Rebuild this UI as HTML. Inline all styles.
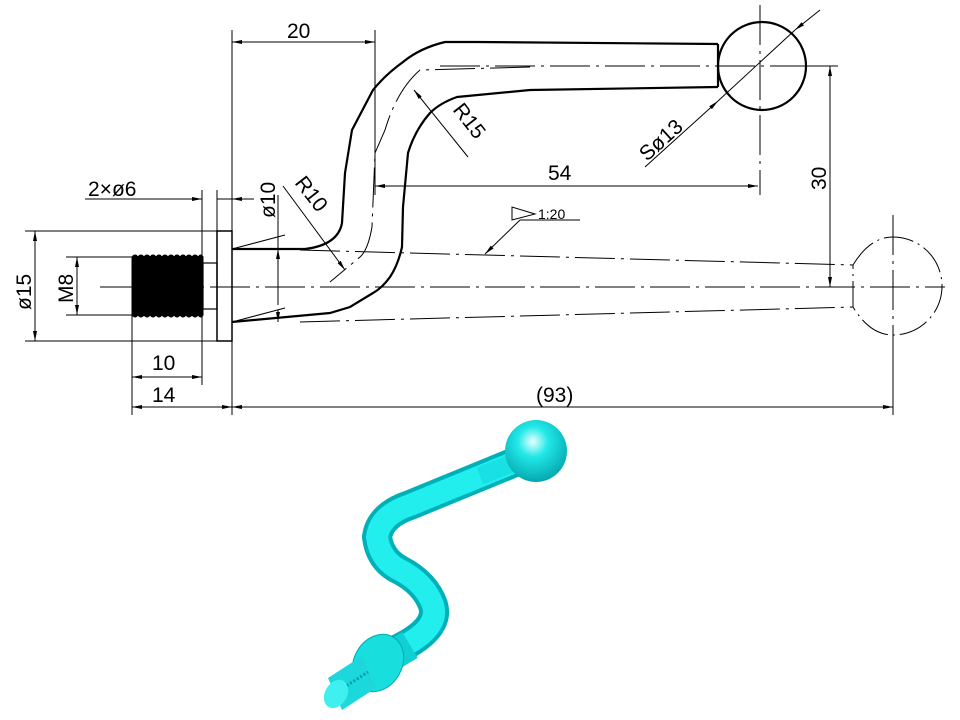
<!DOCTYPE html>
<html><head><meta charset="utf-8"><style>
html,body{margin:0;padding:0;background:#fff;}
svg{display:block}
text{font-family:"Liberation Sans",sans-serif;font-size:21px;fill:#000;}
</style></head><body>
<svg width="960" height="720" viewBox="0 0 960 720" xmlns="http://www.w3.org/2000/svg">
<defs>
<marker id="a" viewBox="0 0 10 4" refX="10" refY="2" markerWidth="10" markerHeight="4" orient="auto-start-reverse" markerUnits="userSpaceOnUse"><path d="M0,0L10,2L0,4z" fill="#000"/></marker>
<radialGradient id="bg" cx="0.45" cy="0.35" r="0.7"><stop offset="0" stop-color="#e8ffff"/><stop offset="0.35" stop-color="#22e8e8"/><stop offset="1" stop-color="#00a0a8"/></radialGradient>
</defs>
<g stroke="#000" fill="none">
<g stroke-width="1" stroke-dasharray="40,6,3,6">
<line x1="100" y1="287" x2="945" y2="287"/>
<line x1="440" y1="66" x2="830" y2="66"/>
<line x1="300" y1="250" x2="853" y2="265"/>
<line x1="300" y1="322" x2="853" y2="307"/>
<line x1="893" y1="215" x2="893" y2="345"/>
<line x1="760" y1="5" x2="760" y2="195"/>
<path d="M530,67 L420,70 Q397,90 385,130 L375,153 L372,227 Q368,250 360,257 L330,282"/>
</g>
<path d="M853,265 Q870,237 893,237 A48,48 0 0 1 893,335 Q870,335 853,307 Z" stroke-width="1" stroke-dasharray="30,5,2,5"/>
<rect x="132" y="257" width="71" height="58" fill="#000"/>
<path d="M132,257 q3,-4 6,0 q3,-4 6,0 q3,-4 6,0 q3,-4 6,0 q3,-4 6,0 q3,-4 6,0 q3,-4 6,0 q3,-4 6,0 q3,-4 6,0 q3,-4 6,0 q3,-4 6,0 q3,-4 5,0" fill="#000" stroke-width="1"/>
<path d="M132,315 q3,4 6,0 q3,4 6,0 q3,4 6,0 q3,4 6,0 q3,4 6,0 q3,4 6,0 q3,4 6,0 q3,4 6,0 q3,4 6,0 q3,4 6,0 q3,4 6,0 q3,4 5,0" fill="#000" stroke-width="1"/>
<rect x="203" y="263" width="14" height="46" stroke-width="1.2"/>
<rect x="217" y="231" width="15" height="110" stroke-width="1.5"/>
<g stroke-width="2.2">
<path d="M718,44 L477,42 L445,42 Q420,48 403,62 Q385,75 373,90 L352,130 L345,173 L342,223 Q338,245 305,249 L232,249"/>
<path d="M718,87 L530,90 L457,97 Q440,103 430,113 Q415,130 408,153 L403,207 L402,247 Q398,265 390,277 Q382,288 373,293 L350,307 L330,313 L232,322"/>
<line x1="718" y1="44" x2="718" y2="87"/>
<circle cx="762" cy="66" r="44"/>
</g>
<g stroke-width="1">
<line x1="232" y1="249" x2="285" y2="235"/>
<line x1="232" y1="322" x2="285" y2="308"/>
<line x1="232" y1="30" x2="232" y2="231"/>
<line x1="375" y1="30" x2="375" y2="195"/>
<line x1="232" y1="341" x2="232" y2="415"/>
<line x1="132" y1="315" x2="132" y2="415"/>
<line x1="202" y1="190" x2="202" y2="385"/>
<line x1="217" y1="190" x2="217" y2="231"/>
<line x1="893" y1="335" x2="893" y2="415"/>
<line x1="25" y1="231" x2="217" y2="231"/>
<line x1="25" y1="341" x2="217" y2="341"/>
<line x1="66" y1="257" x2="132" y2="257"/>
<line x1="66" y1="315" x2="132" y2="315"/>
<line x1="806" y1="66" x2="838" y2="66"/>
<line x1="853" y1="287" x2="838" y2="287"/>
<line x1="232" y1="42" x2="375" y2="42" marker-start="url(#a)" marker-end="url(#a)"/>
<line x1="375" y1="186" x2="758" y2="186" marker-start="url(#a)" marker-end="url(#a)"/>
<line x1="830" y1="66" x2="830" y2="287" marker-start="url(#a)" marker-end="url(#a)"/>
<line x1="232" y1="407" x2="893" y2="407" marker-start="url(#a)" marker-end="url(#a)"/>
<line x1="132" y1="407" x2="232" y2="407" marker-start="url(#a)" marker-end="url(#a)"/>
<line x1="132" y1="377" x2="202" y2="377" marker-start="url(#a)" marker-end="url(#a)"/>
<line x1="35" y1="231" x2="35" y2="341" marker-start="url(#a)" marker-end="url(#a)"/>
<line x1="77" y1="257" x2="77" y2="315" marker-start="url(#a)" marker-end="url(#a)"/>
<line x1="278" y1="195" x2="278" y2="305"/>
<line x1="278" y1="260" x2="278" y2="249" marker-end="url(#a)"/>
<line x1="278" y1="310" x2="278" y2="322" marker-end="url(#a)"/>
<line x1="85" y1="199" x2="202" y2="199" marker-end="url(#a)"/>
<line x1="254" y1="199" x2="232" y2="199" marker-end="url(#a)"/>
<line x1="217" y1="199" x2="232" y2="199"/>
<line x1="283" y1="186" x2="345" y2="270" marker-end="url(#a)"/>
<line x1="468" y1="157" x2="414" y2="90" marker-end="url(#a)"/>
<line x1="645" y1="167" x2="718" y2="101" marker-end="url(#a)"/>
<line x1="820" y1="10" x2="795" y2="30" marker-end="url(#a)"/>
<line x1="718" y1="101" x2="795" y2="30"/>
<line x1="520" y1="220" x2="485" y2="254" marker-end="url(#a)"/>
<line x1="520" y1="220" x2="580" y2="220"/>
<path d="M512,207 L512,220 L535,214 Z"/>
</g>
</g>
<text x="287" y="38">20</text>
<text x="548" y="180">54</text>
<text x="536" y="402">(93)</text>
<text x="152" y="402">14</text>
<text x="152" y="370">10</text>
<text x="88" y="196">2×ø6</text>
<text transform="translate(826,190) rotate(-90)">30</text>
<text transform="translate(31,310) rotate(-90)">ø15</text>
<text transform="translate(73,303) rotate(-90)">M8</text>
<text transform="translate(275,218) rotate(-90)">ø10</text>
<text transform="translate(294,183) rotate(52)">R10</text>
<text transform="translate(452,110) rotate(52)">R15</text>
<text transform="translate(647,162) rotate(-42)">Sø13</text>
<text x="538" y="219" style="font-size:14px">1:20</text>
<g>
<path d="M400,648 Q440,628 433,605 Q425,583 400,570 Q380,560 377,537 Q380,515 410,505 L515,462" stroke="#00b0b8" stroke-width="30" fill="none" stroke-linecap="round"/>
<path d="M400,648 Q440,628 433,605 Q425,583 400,570 Q380,560 377,537 Q380,515 410,505 L515,462" stroke="#22eeee" stroke-width="22" fill="none" stroke-linecap="round"/>
<path d="M480,476 L520,460" stroke="#18e0e4" stroke-width="18"/>
<path d="M385,660 L410,645" stroke="#10d0d6" stroke-width="30"/>
<ellipse cx="378" cy="663" rx="24" ry="30" transform="rotate(30 378 663)" fill="#19dede" stroke="#00a8b0"/>
<path d="M328,678 L362,656 L376,688 L342,710 Z" fill="#1cd8dc"/>
<path d="M340,690 L368,672" stroke="#00a0a8" stroke-width="3" stroke-dasharray="2,2"/>
<ellipse cx="336" cy="694" rx="11" ry="15" transform="rotate(30 336 694)" fill="#40f0f0"/>
<circle cx="536" cy="451" r="31" fill="url(#bg)"/>
</g>
</svg>
</body></html>
